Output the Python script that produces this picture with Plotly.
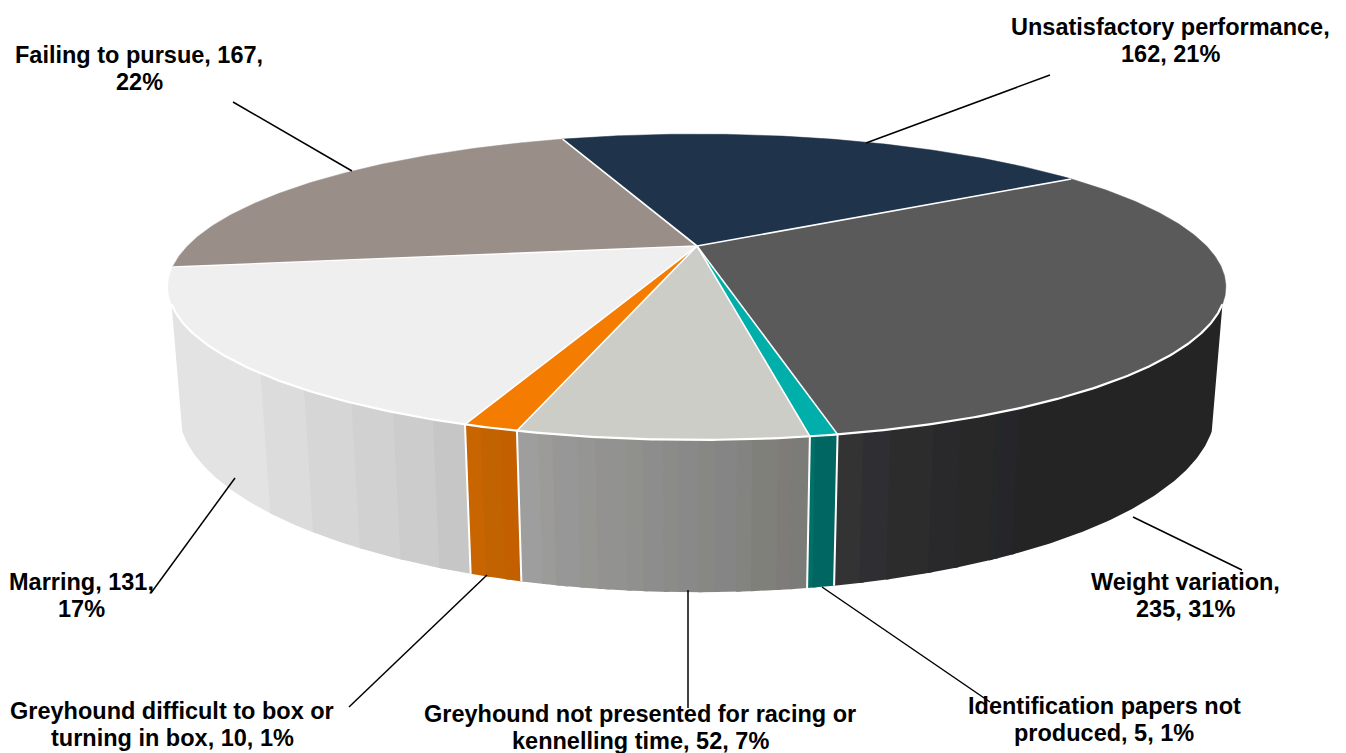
import numpy as np
import plotly.graph_objects as go

# Reasons for greyhound stewards' actions, clockwise from the back of the pie
categories = [
    "Unsatisfactory performance",
    "Weight variation",
    "Identification papers not produced",
    "Greyhound not presented for racing or kennelling time",
    "Greyhound difficult to box or turning in box",
    "Marring",
    "Failing to pursue",
]
counts = [162, 235, 5, 52, 10, 131, 167]

top_colours = ["#1f344b", "#5a5a5a", "#00aeaa", "#cccdc7", "#f47c00", "#efefef", "#9a8f88"]

# Facet shading of each outer wall: (right edge on screen, colour), left to right.
# The last facet of a slice runs on to the slice's right end.
wall_facets = {
    "Weight variation": [
        (868, "#333333"), (895, "#2f2f33"), (938, "#2c2c2c"), (965, "#29292c"),
        (1000, "#282828"), (1006, "#242828"), (1023, "#26262a"), (2000, "#242424"),
    ],
    "Identification papers not produced": [(820, "#006f67"), (2000, "#006661")],
    "Greyhound not presented for racing or kennelling time": [
        (543, "#9e9e9e"), (557, "#9b9b98"), (565, "#999696"), (582, "#979797"),
        (600, "#959591"), (608, "#949191"), (630, "#929291"), (647, "#90908c"),
        (668, "#8d8d8d"), (683, "#8b8b88"), (703, "#898989"), (720, "#878784"),
        (742, "#858585"), (757, "#83837f"), (783, "#80807b"), (797, "#7f7b79"),
        (2000, "#7b7b78"),
    ],
    "Greyhound difficult to box or turning in box": [
        (485, "#c96500"), (505, "#c06300"), (2000, "#c45f00"),
    ],
    "Marring": [
        (263, "#e3e3e3"), (307, "#dcdcdc"), (355, "#d6d6d6"),
        (397, "#d1d1d1"), (437, "#cccccc"), (2000, "#c6c6c6"),
    ],
}

# Number of words on the first line of each label
first_line_words = [2, 2, 3, 6, 5, 2, 4]

# Label centre x and the y of its first line
label_places = [
    (1170, 27), (1185, 582), (1104, 706), (640, 714), (172, 711), (81, 582), (139, 55),
]
LINE_STEP = 27
# Leader lines, slice end first
leaders = [
    ((866, 143), (1050, 75)),
    ((1133, 517), (1242, 570)),
    ((822, 587), (990, 702)),
    ((688, 590), (688, 708)),
    ((487, 575), (349, 707)),
    ((235, 478), (151, 593)),
    ((352, 171), (233, 102)),
]

START_DEG = -19.3       # where the first slice begins, clockwise from the back
HEIGHT = 0.241          # wall height as a fraction of the radius
WALL_VISIBLE_V = 0.37   # the wall turns out of view beyond this depth
FACET_OVERLAP = 0.4     # degrees each facet laps over its neighbour, hides seams

# Perspective camera looking down on a unit-radius disc
CX, CY = 697.0, 246.0
FOCAL = 1825.0
DIST = 3.582
TILT = np.arctan(0.29)


def project(theta_deg, z=0.0, radius=1.0):
    t = np.radians(theta_deg)
    u = radius * np.sin(t)
    v = -radius * np.cos(t)
    depth = DIST - v * np.cos(TILT) - z * np.sin(TILT)
    return (
        CX + FOCAL * u / depth,
        CY + FOCAL * (v * np.sin(TILT) - z * np.cos(TILT)) / depth,
    )


def arc(start, end, z=0.0):
    n = max(int(abs(end - start) * 2), 2) + 1
    return project(np.linspace(start, end, n), z)


values = np.array(counts, dtype=float)
total = values.sum()
edges = START_DEG + np.concatenate([[0.0], np.cumsum(values) / total * 360.0])

# Front half of the rim, used to turn screen x back into an angle
front_deg = np.linspace(90.0, 270.0, 3601)
front_x = project(front_deg)[0]


def x_to_deg(x):
    return float(np.interp(x, front_x[::-1], front_deg[::-1]))


wall_lo = float(np.degrees(np.arccos(-WALL_VISIBLE_V)))
wall_hi = 360.0 - wall_lo

fig = go.Figure()


def add_polygon(xs, ys, colour, name, width=0.5):
    fig.add_trace(go.Scatter(
        x=xs, y=ys, mode="lines", fill="toself", fillcolor=colour,
        line=dict(color=colour, width=width), name=name, hoverinfo="name",
        showlegend=False,
    ))


def add_line(xs, ys, width=2.0, colour="#ffffff"):
    fig.add_trace(go.Scatter(
        x=xs, y=ys, mode="lines", line=dict(color=colour, width=width),
        hoverinfo="skip", showlegend=False,
    ))


# Outer walls, facet by facet
for i, cat in enumerate(categories):
    lo, hi = max(edges[i], wall_lo), min(edges[i + 1], wall_hi)
    if lo >= hi or cat not in wall_facets:
        continue
    stop = hi
    for right_x, colour in wall_facets[cat]:
        # facets are listed left to right, angles grow right to left
        start = max(lo, x_to_deg(right_x)) if right_x < 2000 else lo
        if start < stop:
            lapped = min(stop + FACET_OVERLAP, hi)
            tx, ty = arc(start, lapped)
            bx, by = arc(start, lapped, -HEIGHT)
            add_polygon(
                np.concatenate([tx, bx[::-1], tx[:1]]),
                np.concatenate([ty, by[::-1], ty[:1]]),
                colour, cat, width=0,
            )
        stop = start

# White seams between walls
for e in edges[1:-1]:
    if wall_lo < e < wall_hi:
        tx, ty = project(e)
        bx, by = project(e, -HEIGHT)
        add_line([tx, bx], [ty, by])

# Top faces
for i, cat in enumerate(categories):
    ax, ay = arc(edges[i], edges[i + 1])
    add_polygon(
        np.concatenate([[CX], ax, [CX]]),
        np.concatenate([[CY], ay, [CY]]),
        top_colours[i], cat,
    )

# White spokes and the rim over the walls
for e in edges[:-1]:
    ex, ey = project(e)
    add_line([CX, ex], [CY, ey], width=1.6)
rx, ry = arc(wall_lo, wall_hi)
add_line(rx, ry, width=2.2)

# Labels, one annotation per line for the tight line spacing, and leader lines
for i, cat in enumerate(categories):
    pct = round(values[i] / total * 100)
    words = f"{cat}, {counts[i]}, {pct}%".split(" ")
    n = first_line_words[i]
    lines = [" ".join(words[:n]), " ".join(words[n:])]
    for row, line in enumerate(lines):
        fig.add_annotation(
            x=label_places[i][0], y=label_places[i][1] + row * LINE_STEP,
            text=line, showarrow=False, xanchor="center", yanchor="middle",
            font=dict(family="Liberation Sans", size=23.5, color="#000000", weight="bold"),
        )
    (x0, y0), (x1, y1) = leaders[i]
    fig.add_shape(
        type="line", x0=x0, y0=y0, x1=x1, y1=y1, layer="above",
        line=dict(color="#000000", width=1.5),
    )

fig.update_layout(
    width=1346, height=753, margin=dict(l=0, r=0, t=0, b=0),
    paper_bgcolor="#ffffff", plot_bgcolor="#ffffff",
    xaxis=dict(range=[0, 1346], visible=False, fixedrange=True),
    yaxis=dict(range=[753, 0], visible=False, fixedrange=True),
)
fig.write_html("out.html", config={"displayModeBar": False})
